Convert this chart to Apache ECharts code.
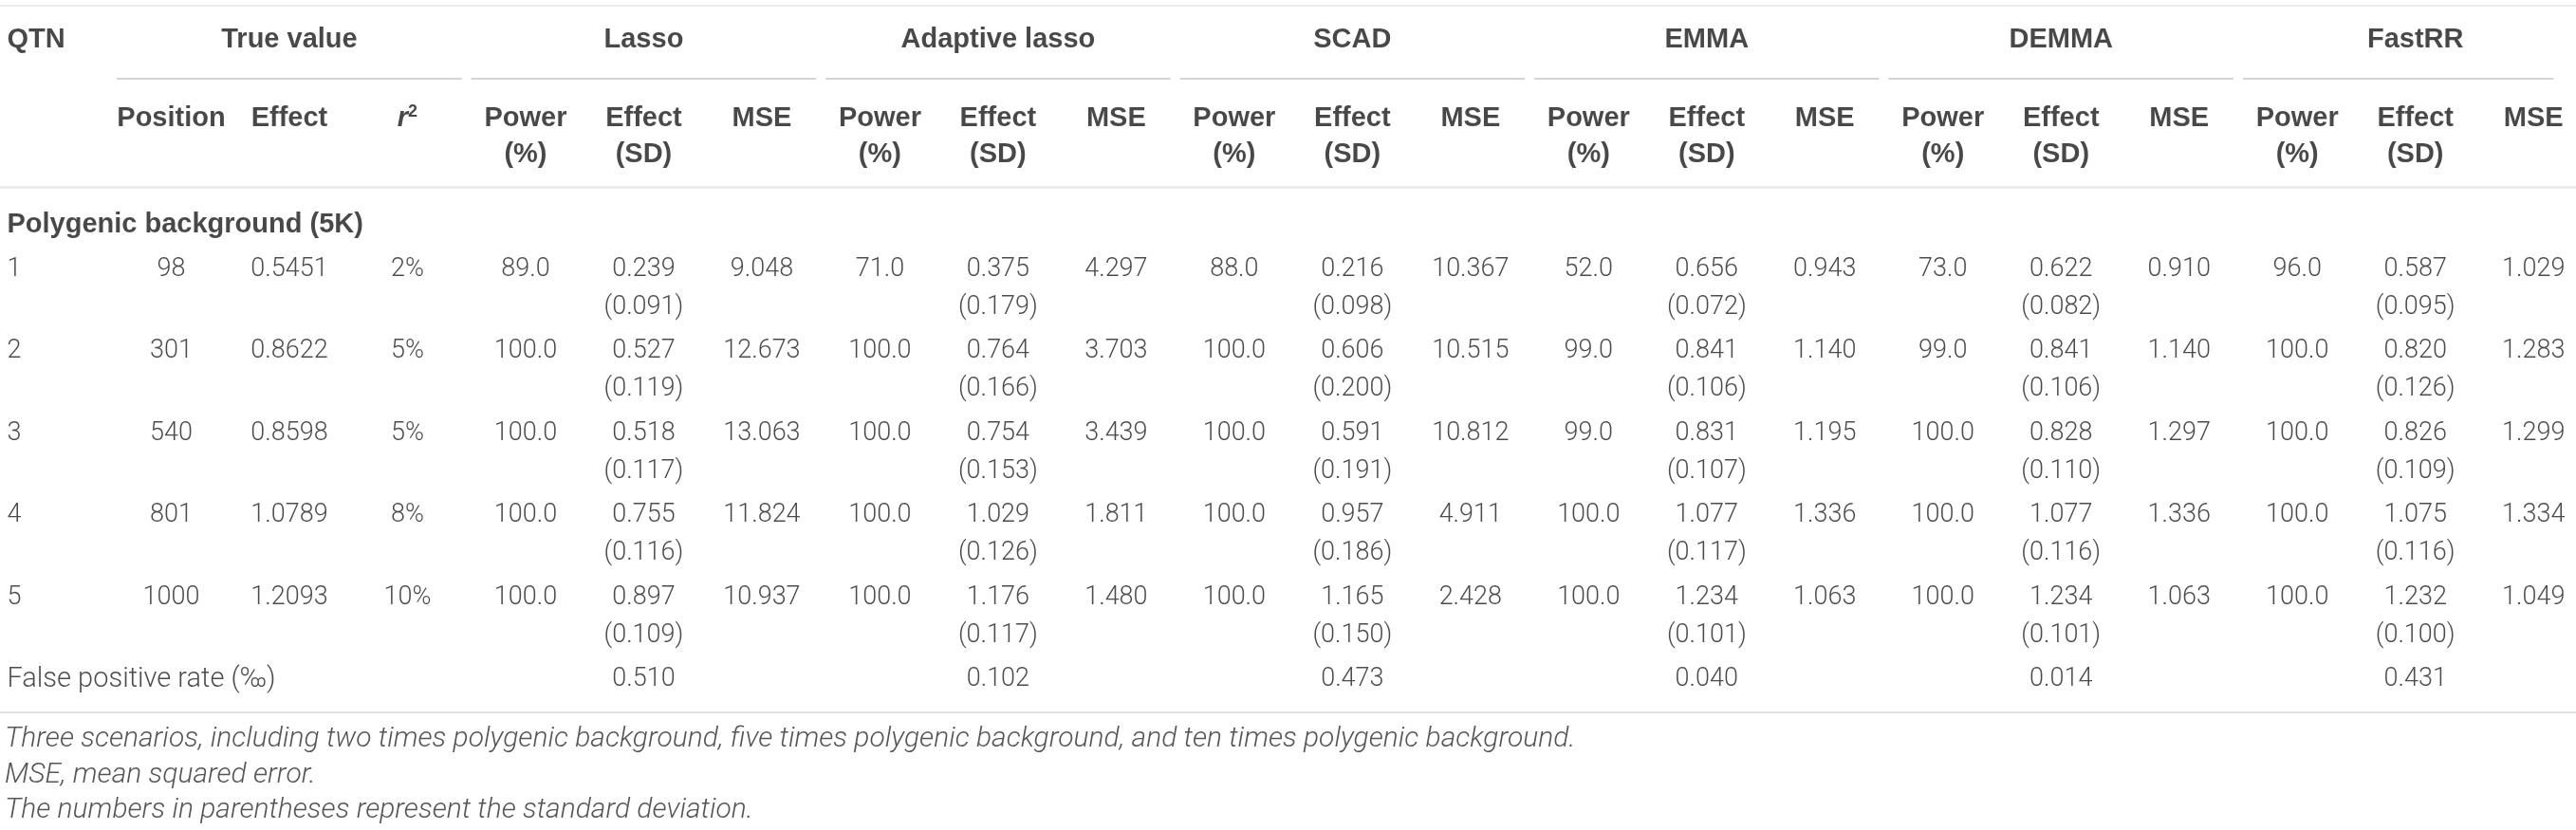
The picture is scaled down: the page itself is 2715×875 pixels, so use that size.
<!DOCTYPE html>
<html>
<head>
<meta charset="utf-8">
<script src="https://cdn.jsdelivr.net/npm/echarts@6/dist/echarts.min.js"></script>
<style>
  html, body { margin: 0; padding: 0; background: #fff; }
  #table-chart { width: 2715px; height: 875px; }
</style>
</head>
<body>
<div id="table-chart"></div>
<script>
//数据
var qtnIds = ['1', '2', '3', '4', '5'];
var positions = [98, 301, 540, 801, 1000];
var trueEffects = [0.5451, 0.8622, 0.8598, 1.0789, 1.2093];
var r2Pct = [2, 5, 5, 8, 10];
var methods = ['Lasso', 'Adaptive lasso', 'SCAD', 'EMMA', 'DEMMA', 'FastRR'];
// one row per method, one value per QTN
var power = [
    [89.0, 100.0, 100.0, 100.0, 100.0],
    [71.0, 100.0, 100.0, 100.0, 100.0],
    [88.0, 100.0, 100.0, 100.0, 100.0],
    [52.0, 99.0, 99.0, 100.0, 100.0],
    [73.0, 99.0, 100.0, 100.0, 100.0],
    [96.0, 100.0, 100.0, 100.0, 100.0]
];
var effect = [
    [0.239, 0.527, 0.518, 0.755, 0.897],
    [0.375, 0.764, 0.754, 1.029, 1.176],
    [0.216, 0.606, 0.591, 0.957, 1.165],
    [0.656, 0.841, 0.831, 1.077, 1.234],
    [0.622, 0.841, 0.828, 1.077, 1.234],
    [0.587, 0.820, 0.826, 1.075, 1.232]
];
var effectSD = [
    [0.091, 0.119, 0.117, 0.116, 0.109],
    [0.179, 0.166, 0.153, 0.126, 0.117],
    [0.098, 0.200, 0.191, 0.186, 0.150],
    [0.072, 0.106, 0.107, 0.117, 0.101],
    [0.082, 0.106, 0.110, 0.116, 0.101],
    [0.095, 0.126, 0.109, 0.116, 0.100]
];
var mse = [
    [9.048, 12.673, 13.063, 11.824, 10.937],
    [4.297, 3.703, 3.439, 1.811, 1.480],
    [10.367, 10.515, 10.812, 4.911, 2.428],
    [0.943, 1.140, 1.195, 1.336, 1.063],
    [0.910, 1.140, 1.297, 1.336, 1.063],
    [1.029, 1.283, 1.299, 1.334, 1.049]
];
var falsePositive = [0.510, 0.102, 0.473, 0.040, 0.014, 0.431];
var sectionTitle = 'Polygenic background (5K)';
var fprLabel = 'False positive rate (‰)';
var notes = [
    'Three scenarios, including two times polygenic background, five times polygenic background, and ten times polygenic background.',
    'MSE, mean squared error.',
    'The numbers in parentheses represent the standard deviation.'
];

//版式 (x = column index, y = half-row units, row i sits at 2*i)
var layout = {
    xMin: -0.45, xMax: 21.36,
    yMin: -6.57, yMax: 13.67,
    leftCol: -0.39,
    yTop: -6.43, yGroup: -5.6, yUnder: -4.65,
    ySub1: -3.68, ySub2: -2.8, yHeadLine: -2.0,
    ySection: -1.09, sdGap: 0.93, yFpr: 10, yBottom: 10.8,
    yNotes: [11.46, 12.34, 13.2]
};

var headFont = { fontFamily: 'Liberation Sans', fontWeight: 'bold', fontSize: 29, color: '#1a1a1a' };
var bodyFont = { fontFamily: 'Roboto', fontWeight: 300, fontSize: 27, color: '#1e1e1e' };
var noteFont = { fontFamily: 'Roboto', fontWeight: 300, fontStyle: 'italic', fontSize: 30, color: '#2a2a2a' };

function cell(x, y, text, align) {
    return { value: [x, y], text: text, label: { align: align || 'center' } };
}

var headCells = [], bodyCells = [], noteCells = [], rules = [];

// header
headCells.push(cell(layout.leftCol, layout.yGroup, 'QTN', 'left'));
headCells.push(cell(2, layout.yGroup, 'True value'));
headCells.push(cell(1, layout.ySub1, 'Position'));
headCells.push(cell(2, layout.ySub1, 'Effect'));
headCells.push({ value: [3, layout.ySub1], text: '{i|r}{s|2}', label: { align: 'center' } });
rules.push([0.54, 3.46]);
methods.forEach(function (m, k) {
    var c = 4 + 3 * k;
    headCells.push(cell(c + 1, layout.yGroup, m));
    headCells.push(cell(c, layout.ySub1, 'Power'));
    headCells.push(cell(c, layout.ySub2, '(%)'));
    headCells.push(cell(c + 1, layout.ySub1, 'Effect'));
    headCells.push(cell(c + 1, layout.ySub2, '(SD)'));
    headCells.push(cell(c + 2, layout.ySub1, 'MSE'));
    rules.push([c - 0.46, Math.min(c + 2.46, 21.17)]);
});
headCells.push(cell(layout.leftCol, layout.ySection, sectionTitle, 'left'));

// body
qtnIds.forEach(function (q, i) {
    var y = 2 * i;
    bodyCells.push(cell(layout.leftCol, y, q, 'left'));
    bodyCells.push(cell(1, y, String(positions[i])));
    bodyCells.push(cell(2, y, trueEffects[i].toFixed(4)));
    bodyCells.push(cell(3, y, r2Pct[i] + '%'));
    methods.forEach(function (m, k) {
        var c = 4 + 3 * k;
        bodyCells.push(cell(c, y, power[k][i].toFixed(1)));
        bodyCells.push(cell(c + 1, y, effect[k][i].toFixed(3)));
        bodyCells.push(cell(c + 1, y + layout.sdGap, '(' + effectSD[k][i].toFixed(3) + ')'));
        bodyCells.push(cell(c + 2, y, mse[k][i].toFixed(3)));
    });
});
var fprCell = cell(layout.leftCol, layout.yFpr, fprLabel, 'left');
fprCell.label.fontSize = 29;
bodyCells.push(fprCell);
falsePositive.forEach(function (v, k) {
    bodyCells.push(cell(5 + 3 * k, layout.yFpr, v.toFixed(3)));
});
notes.forEach(function (n, j) {
    noteCells.push(cell(-0.41, layout.yNotes[j], n, 'left'));
});

function textSeries(data, font, rich) {
    return {
        type: 'scatter',
        silent: true,
        symbolSize: 0.1,
        itemStyle: { color: 'rgba(0,0,0,0)' },
        data: data,
        label: Object.assign({
            show: true,
            position: 'inside',
            formatter: function (p) { return p.data.text; },
            rich: rich || {}
        }, font)
    };
}

function ruleItem(x1, x2, y, color, width) {
    return { coords: [[x1, y], [x2, y]], lineStyle: { color: color, width: width } };
}

var ruleData = [
    ruleItem(layout.xMin, layout.xMax, layout.yTop, '#dcdcdc', 2),
    ruleItem(layout.xMin, layout.xMax, layout.yHeadLine, '#d2d2d2', 2.5),
    ruleItem(layout.xMin, layout.xMax, layout.yBottom, '#c4c4c4', 2)
];
rules.forEach(function (r) {
    ruleData.push(ruleItem(r[0], r[1], layout.yUnder, '#8e8e8e', 1.5));
});

var tableChart = echarts.init(document.getElementById('table-chart'));
tableChart.setOption({
    animation: false,
    grid: { left: 0, right: 0, top: 0, bottom: 0 },
    xAxis: { type: 'value', min: layout.xMin, max: layout.xMax, show: false },
    yAxis: { type: 'value', inverse: true, min: layout.yMin, max: layout.yMax, show: false },
    series: [
        {
            type: 'lines',
            coordinateSystem: 'cartesian2d',
            silent: true,
            data: ruleData
        },
        textSeries(headCells, headFont, {
            i: { fontFamily: 'Liberation Sans', fontStyle: 'italic', fontWeight: 'bold', fontSize: 29, color: '#1a1a1a' },
            s: { fontFamily: 'Liberation Sans', fontWeight: 'bold', fontSize: 18, color: '#1a1a1a', padding: [0, 0, 14, 0] }
        }),
        textSeries(bodyCells, bodyFont),
        textSeries(noteCells, noteFont)
    ]
});
</script>
</body>
</html>
